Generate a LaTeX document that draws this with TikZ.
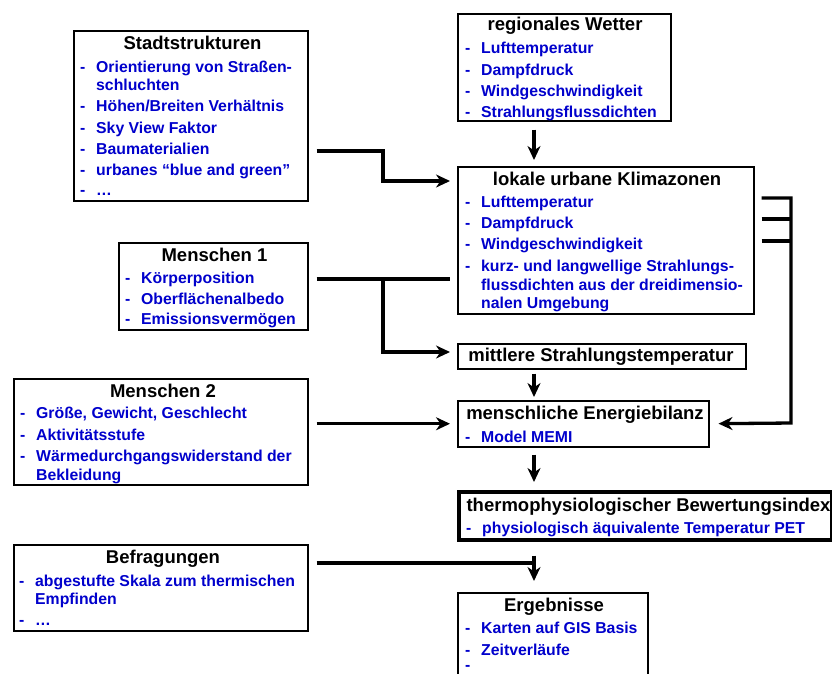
\documentclass[tikz,border=0pt]{standalone}
\usepackage{fontspec}
\setmainfont{Liberation Sans}
\usetikzlibrary{arrows.meta}
\definecolor{itemblue}{RGB}{0,0,204}
\tikzset{
  box/.style={draw=black, line width=1.5pt, inner sep=0pt, anchor=north west},
  thickbox/.style={box, line width=3.6pt},
  ttl/.style={anchor=base, font=\bfseries\fontsize{18.5}{20}\selectfont, text=black, inner sep=0pt},
  itm/.style={anchor=base west, font=\bfseries\fontsize{15.8}{18}\selectfont, text=itemblue, inner sep=0pt},
  conn/.style={line width=3.3pt},
  arr/.style={conn, -{Stealth[length=14pt,width=13pt,inset=4.5pt]}},
}
\newcommand\ditem[4]{%
  \node[itm] (#1-d) at (#2-16,#3) {-};
  \node[itm] (#1) at (#2,#3) {#4};}
\newcommand\citem[4]{\node[itm] (#1) at (#2,#3) {#4};}
\begin{document}
\begin{tikzpicture}[x=1pt,y=-1pt]
\clip (0,0) rectangle (832,673);
\fill[white] (0,0) rectangle (832,673);

% boxes
\node[box, minimum width=234pt, minimum height=170pt] (stadt) at (73,30) {};
\node[box, minimum width=213pt, minimum height=107pt] (regional) at (457,13) {};
\node[box, minimum width=296pt, minimum height=147pt] (lokale) at (457,166) {};
\node[box, minimum width=288pt, minimum height=25pt] (mittel) at (457,343) {};
\node[box, minimum width=189pt, minimum height=87pt] (mA) at (118,242) {};
\node[box, minimum width=294pt, minimum height=106pt] (mB) at (13,378) {};
\node[box, minimum width=251pt, minimum height=46pt] (mensch) at (457,400) {};
\node[thickbox, minimum width=373pt, minimum height=48pt] (thermo) at (457,490) {};
\node[box, minimum width=294pt, minimum height=86pt] (befr) at (13,544) {};
\node[box, minimum width=190pt, minimum height=120pt] (erg) at (457,592) {};

% Stadtstrukturen
\node[ttl] (stadtT) at (192.5,49) {Stadtstrukturen};
\ditem{s1}{96}{72}{Orientierung von Straßen-}
\citem{s1b}{96}{90}{schluchten}
\ditem{s2}{96}{111.5}{Höhen/Breiten Verhältnis}
\ditem{s3}{96}{133}{Sky View Faktor}
\ditem{s4}{96}{154.5}{Baumaterialien}
\ditem{s5}{96}{175.5}{urbanes “blue and green”}
\ditem{s6}{96}{195}{…}

% regionales Wetter
\node[ttl] (regT) at (565,30) {regionales Wetter};
\ditem{r1}{481}{53}{Lufttemperatur}
\ditem{r2}{481}{75}{Dampfdruck}
\ditem{r3}{481}{96}{Windgeschwindigkeit}
\ditem{r4}{481}{117}{Strahlungsflussdichten}

% lokale urbane Klimazonen
\node[ttl] (lokT) at (607,185) {lokale urbane Klimazonen};
\ditem{l1}{481}{207}{Lufttemperatur}
\ditem{l2}{481}{228}{Dampfdruck}
\ditem{l3}{481}{249}{Windgeschwindigkeit}
\ditem{l4}{481}{271}{kurz- und langwellige Strahlungs-}
\citem{l4b}{481}{290}{flussdichten aus der dreidimensio-}
\citem{l4c}{481}{308.5}{nalen Umgebung}

% mittlere Strahlungstemperatur
\node[ttl] (mitT) at (601,361.5) {mittlere Strahlungstemperatur};

% Menschen 1
\node[ttl] (mAT) at (214.5,261.5) {Menschen 1};
\ditem{a1}{141}{283}{Körperposition}
\ditem{a2}{141}{304}{Oberflächenalbedo}
\ditem{a3}{141}{324.5}{Emissionsvermögen}

% Menschen 2
\node[ttl] (mBT) at (163,397.5) {Menschen 2};
\ditem{b1}{36}{418}{Größe, Gewicht, Geschlecht}
\ditem{b2}{36}{440}{Aktivitätsstufe}
\ditem{b3}{36}{461}{Wärmedurchgangswiderstand der}
\citem{b3b}{36}{480}{Bekleidung}

% menschliche Energiebilanz
\node[ttl] (menT) at (585,419.5) {menschliche Energiebilanz};
\ditem{e1}{481}{442}{Model MEMI}

% thermophysiologischer Bewertungsindex
\node[ttl] (thT) at (648.5,511.5) {thermophysiologischer Bewertungsindex};
\ditem{t1}{482}{533}{physiologisch äquivalente Temperatur PET}

% Befragungen
\node[ttl] (beT) at (163,563.5) {Befragungen};
\ditem{f1}{35}{586}{abgestufte Skala zum thermischen}
\citem{f1b}{35}{604}{Empfinden}
\ditem{f2}{35}{625}{…}

% Ergebnisse
\node[ttl] (erT) at (554,611.5) {Ergebnisse};
\ditem{g1}{481}{633}{Karten auf GIS Basis}
\ditem{g2}{481}{655}{Zeitverläufe}
\node[itm] (g3-d) at (465,670) {-};

% junction coordinates
\coordinate (cx) at (534,0);
\coordinate (sj) at (383,151);
\coordinate (sk) at (383,181);
\coordinate (aj) at (383,279);
\coordinate (ak) at (383,352);
\coordinate (q1) at (791,198);
\coordinate (q2) at (791,219);
\coordinate (q3) at (791,241);
\coordinate (q4) at (791,423);
\coordinate (bj) at (534,563);

% connectors
\draw[arr, shorten <=8pt, shorten >=7pt] (stadt.east |- sj) -- (sj) -- (sk) -- (lokale.west |- sk);
\draw[arr, shorten <=8pt, shorten >=6pt] (regional.south -| cx) -- (lokale.north -| cx);
\draw[conn, shorten <=8pt, shorten >=7pt] (mA.east |- aj) -- (lokale.west |- aj);
\draw[arr, shorten >=7pt] (aj) -- (ak) -- (mittel.west |- ak);
\draw[arr, shorten <=8pt, shorten >=7pt] (mB.east |- mensch.west) -- (mensch.west);
\draw[arr, shorten <=4pt, shorten >=3pt] (mittel.south -| cx) -- (mensch.north -| cx);
\draw[arr, shorten <=7pt, shorten >=9pt] (lokale.east |- q1) -- (q1) -- (q4) -- (mensch.east);
\draw[conn, shorten <=7pt] (lokale.east |- q2) -- (q2);
\draw[conn, shorten <=7pt] (lokale.east |- q3) -- (q3);
\draw[arr, shorten <=7pt, shorten >=8pt] (mensch.south -| cx) -- (thermo.north -| cx);
\draw[arr, shorten <=14pt, shorten >=11pt] (thermo.south -| cx) -- (erg.north -| cx);
\draw[conn, shorten <=8pt] (befr.east |- bj) -- (bj);
\end{tikzpicture}
\end{document}
